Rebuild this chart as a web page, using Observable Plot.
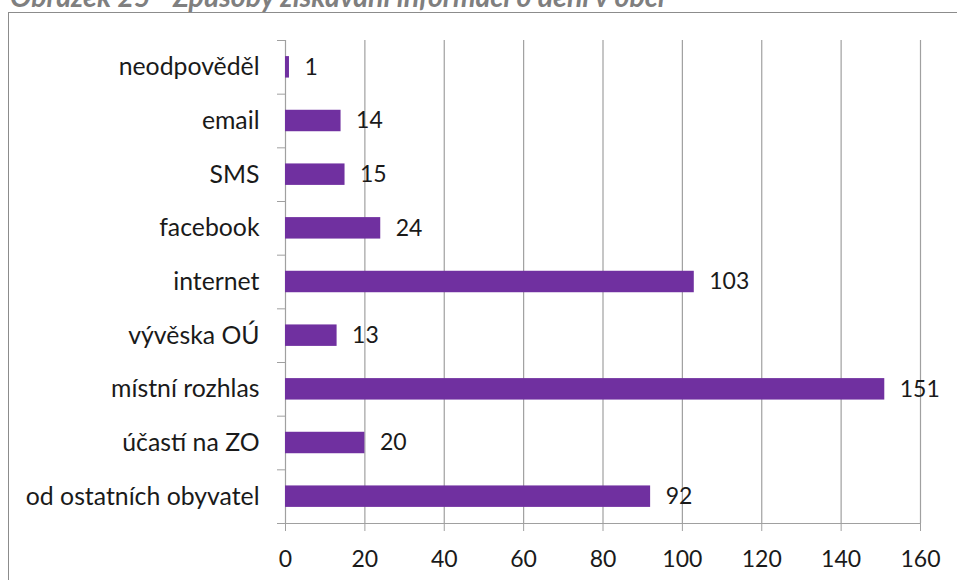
<!DOCTYPE html>
<html><head><meta charset="utf-8">
<script src="https://cdn.jsdelivr.net/npm/d3@7"></script>
<script src="https://cdn.jsdelivr.net/npm/@observablehq/plot@0.6"></script>
<style>
body{margin:0;background:#fff;overflow:hidden;}
#wrap{position:relative;width:957px;height:580px;overflow:hidden;background:#fff;}
#title{position:absolute;left:10px;top:-21px;font:italic bold 28.5px Lato;line-height:normal;color:#7f7f7f;white-space:nowrap;}
#box{position:absolute;left:8px;top:12px;width:1000px;height:1000px;border:1.5px solid #8c8c8c;box-sizing:border-box;}
#chart{position:absolute;left:0;top:0;}
</style></head>
<body><div id="wrap"><div id="title">Obrázek 25 - Způsoby získávání informací o dění v obci</div><div id="box"></div><div id="chart"></div></div>
<script>
const categories = ["neodpověděl","email","SMS","facebook","internet","vývěska OÚ","místní rozhlas","účastí na ZO","od ostatních obyvatel"];
const values = [1,14,15,24,103,13,151,20,92];
const xTicks = [0,20,40,60,80,100,120,140,160];

const rows = categories.map((c,i)=>({cat:c, i, v:values[i]}));
const n = categories.length;
const bounds = d3.range(n+1);
const centers = d3.range(n).map(i=>i+0.5);
const font = "Lato";

const chart = Plot.plot({
  width: 957,
  height: 580,
  marginLeft: 285,
  marginRight: 37,
  marginTop: 40,
  marginBottom: 57,
  style: {fontFamily: font, background: "transparent", color: "#1a1a1a"},
  x: {domain: [0,160]},
  y: {domain: [n, 0]},
  marks: [
    Plot.ruleX(xTicks, {stroke: "#a0a0a0", strokeWidth: 1.2, strokeOpacity: 1}),
    Plot.ruleY([n], {stroke: "#a0a0a0", strokeWidth: 1.2}),
    Plot.rectX(rows, {x1: 0, x2: "v", y1: d=>d.i+0.3, y2: d=>d.i+0.7, fill: "#7030a0"}),
    Plot.text(rows, {x: "v", y: d=>d.i+0.5, text: d=>String(d.v), dx: 15, textAnchor: "start", fontSize: 23, fill: "#1a1a1a"}),
    Plot.axisX({ticks: xTicks, tickSize: 8, tickPadding: 19, fontSize: 23, stroke: "#a0a0a0", label: null, color: "#1a1a1a"}),
    Plot.axisY({ticks: bounds, tickSize: 8, tickFormat: ()=>"", stroke: "#a0a0a0", label: null}),
    Plot.axisY({ticks: centers, tickSize: 0, tickPadding: 26, fontSize: 24.8, tickFormat: t=>categories[Math.floor(t)], label: null, color: "#1a1a1a"})
  ]
});
document.getElementById("chart").appendChild(chart);
</script>
</body></html>
